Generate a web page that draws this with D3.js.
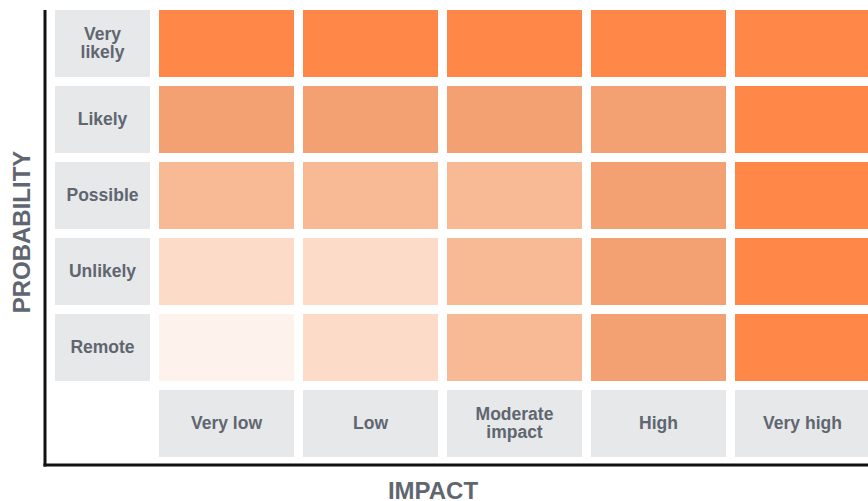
<!DOCTYPE html>
<html>
<head>
<meta charset="utf-8">
<script src="https://cdn.jsdelivr.net/npm/d3@7"></script>
<style>
  html, body { margin: 0; padding: 0; background: #fff; overflow: hidden; }
  svg { display: block; }
</style>
</head>
<body>
<svg id="chart" width="868" height="501"></svg>
<script>
// Data
const impacts = ["Very low", "Low", "Moderate impact", "High", "Very high"];
const probabilities = ["Very likely", "Likely", "Possible", "Unlikely", "Remote"];
// risk level for each probability row (top to bottom) across impacts
const levelsVeryLikely = [4, 4, 4, 4, 4];
const levelsLikely     = [3, 3, 3, 3, 4];
const levelsPossible   = [2, 2, 2, 3, 4];
const levelsUnlikely   = [1, 1, 2, 3, 4];
const levelsRemote     = [0, 1, 2, 3, 4];
const levelRows = [levelsVeryLikely, levelsLikely, levelsPossible, levelsUnlikely, levelsRemote];
const levelColors = ["#fef2ec", "#fcdcc8", "#f8ba94", "#f3a172", "#ff8848"];

const cells = [];
probabilities.forEach((p, i) => impacts.forEach((im, j) => cells.push({p, im, level: levelRows[i][j]})));

const svg = d3.select("#chart");
const labelBg = "#e7e8ea", textColor = "#5f6670";
const font = "Liberation Sans, Arial, Helvetica, sans-serif";

const x = d3.scaleBand().domain(impacts).range([154.5, 874.5]).paddingInner(0.0625).paddingOuter(0.03125);
const y = d3.scaleBand().domain(probabilities).range([5.5, 385.5]).paddingInner(9/76).paddingOuter(4.5/76);
const color = d3.scaleOrdinal().domain([0,1,2,3,4]).range(levelColors);

const labelX0 = 55, labelW = 95;
const bottomY0 = 390, bottomH = 67;

// heat cells
svg.append("g").selectAll("rect").data(cells).join("rect")
  .attr("x", d => x(d.im)).attr("y", d => y(d.p))
  .attr("width", x.bandwidth()).attr("height", y.bandwidth())
  .attr("fill", d => color(d.level));

function wrapLabel(sel, text, cx, cy) {
  let lines;
  if (text === "Very likely") lines = ["Very", "likely"];
  else if (text === "Moderate impact") lines = ["Moderate", "impact"];
  else lines = [text];
  const lh = 18;
  const t = sel.append("text")
    .attr("text-anchor", "middle")
    .attr("font-family", font).attr("font-weight", "bold")
    .attr("font-size", 17.5).attr("fill", textColor);
  lines.forEach((l, k) => {
    t.append("tspan").attr("x", cx)
      .attr("y", cy + (k - (lines.length - 1) / 2) * lh + 5.5)
      .text(l);
  });
}

// probability labels
const pl = svg.append("g");
probabilities.forEach(p => {
  pl.append("rect").attr("x", labelX0).attr("y", y(p)).attr("width", labelW).attr("height", y.bandwidth()).attr("fill", labelBg);
  wrapLabel(pl, p, labelX0 + labelW / 2, y(p) + y.bandwidth() / 2);
});

// impact labels
const il = svg.append("g");
impacts.forEach(im => {
  il.append("rect").attr("x", x(im)).attr("y", bottomY0).attr("width", x.bandwidth()).attr("height", bottomH).attr("fill", labelBg);
  wrapLabel(il, im, x(im) + x.bandwidth() / 2, bottomY0 + bottomH / 2);
});

// axes lines
svg.append("line").attr("x1", 45).attr("x2", 45).attr("y1", 10).attr("y2", 466.5)
  .attr("stroke", "#111").attr("stroke-width", 3);
svg.append("line").attr("x1", 43.5).attr("x2", 868).attr("y1", 465).attr("y2", 465)
  .attr("stroke", "#111").attr("stroke-width", 3);

// axis titles
svg.append("text").attr("x", 433).attr("y", 499)
  .attr("text-anchor", "middle").attr("font-family", font).attr("font-weight", "bold")
  .attr("font-size", 24).attr("fill", textColor).text("IMPACT");
svg.append("text").attr("transform", "translate(30,232) rotate(-90)")
  .attr("text-anchor", "middle").attr("font-family", font).attr("font-weight", "bold")
  .attr("font-size", 24).attr("fill", textColor).text("PROBABILITY");
</script>
</body>
</html>
